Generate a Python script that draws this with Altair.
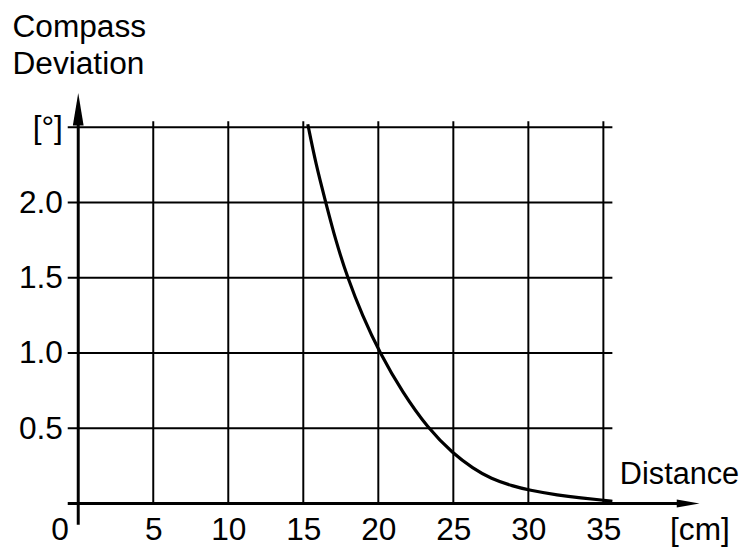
import altair as alt
import pandas as pd

# --- data ---
grid_x = [5, 10, 15, 20, 25, 30, 35]
grid_y = [0.5, 1.0, 1.5, 2.0, 2.5]
x_ticks = [0, 5, 10, 15, 20, 25, 30, 35]
unit_tick = [41.4]
y_ticks = [0.5, 1.0, 1.5, 2.0, 2.5]
curve_x = [15.3, 15.85, 16.5, 17.15, 17.95, 18.93, 20.1, 21.6, 23.3, 25.0,
           26.3, 27.5, 29.0, 30.0, 32.0, 33.5, 35.0, 35.6]
curve_y = [2.52, 2.25, 2.0, 1.75, 1.5, 1.25, 1.0, 0.74, 0.5, 0.33,
           0.235, 0.165, 0.115, 0.09, 0.055, 0.037, 0.022, 0.015]

# extents of the drawn grid / axes (data units)
GRID_TOP = 2.54
GRID_LEFT = -0.7
GRID_RIGHT = 35.6
YAXIS_BOTTOM = -0.14
YAXIS_TOP = 2.6
XAXIS_RIGHT = 40.2
Y_ARROW = 2.62
X_ARROW = 40.65

FONT = "Liberation Sans"
xs = alt.Scale(domain=[0, 42], nice=False, zero=False)
ys = alt.Scale(domain=[0, 2.8], nice=False, zero=False)

xax = alt.Axis(
    values=x_ticks + unit_tick,
    labelExpr="datum.value > 40 ? '[cm]' : datum.label",
    labelOffset={"condition": {"test": "datum.value == 0", "value": -19}, "value": 0},
    domain=False, ticks=False, grid=False,
    labelBaseline="alphabetic", labelPadding=36,
    labelFontSize=32, labelFont=FONT, labelColor="black",
    labelFlush=False, labelOverlap=False,
    title="Distance", titleX=547, titleY=-20, titleAlign="left",
    titleAnchor="start", titleBaseline="alphabetic",
    titleFontSize=31, titleFont=FONT, titleFontWeight="normal", titleColor="black",
)
yax = alt.Axis(
    values=y_ticks,
    labelExpr="datum.value == 2.5 ? '[°]' : format(datum.value, '.1f')",
    domain=False, ticks=False, grid=False,
    labelPadding=16, labelFontSize=32, labelFont=FONT, labelColor="black",
    labelFlush=False, labelOverlap=False,
    title=["Compass", "Deviation"], titleAngle=0, titleAlign="left",
    titleBaseline="alphabetic", titleX=-67, titleY=-46, titleLineHeight=37,
    titleFontSize=32, titleFont=FONT, titleFontWeight="normal", titleColor="black",
)

vgrid = pd.DataFrame({"x": grid_x, "y0": 0.0, "y1": GRID_TOP})
hgrid = pd.DataFrame({"y": grid_y, "x0": GRID_LEFT, "x1": GRID_RIGHT})
curve = pd.DataFrame({"x": curve_x, "y": curve_y})
xaxis_df = pd.DataFrame({"y": [0.0], "x0": [GRID_LEFT], "x1": [XAXIS_RIGHT]})
yaxis_df = pd.DataFrame({"x": [0.0], "y0": [YAXIS_BOTTOM], "y1": [YAXIS_TOP]})
yarrow_df = pd.DataFrame({"x": [0.0], "y": [Y_ARROW]})
xarrow_df = pd.DataFrame({"x": [X_ARROW], "y": [0.0]})

vg = alt.Chart(vgrid).mark_rule(color="black", strokeWidth=2).encode(
    x=alt.X("x:Q", scale=xs, axis=xax),
    y=alt.Y("y0:Q", scale=ys, axis=yax),
    y2="y1:Q",
)
hg = alt.Chart(hgrid).mark_rule(color="black", strokeWidth=2).encode(
    y=alt.Y("y:Q", scale=ys, axis=yax),
    x=alt.X("x0:Q", scale=xs, axis=xax),
    x2="x1:Q",
)
xa = alt.Chart(xaxis_df).mark_rule(color="black", strokeWidth=3).encode(
    y=alt.Y("y:Q", scale=ys, axis=yax),
    x=alt.X("x0:Q", scale=xs, axis=xax),
    x2="x1:Q",
)
ya = alt.Chart(yaxis_df).mark_rule(color="black", strokeWidth=3).encode(
    x=alt.X("x:Q", scale=xs, axis=xax),
    y=alt.Y("y0:Q", scale=ys, axis=yax),
    y2="y1:Q",
)
yarr = alt.Chart(yarrow_df).mark_point(
    shape="M0,-1L0.33,1L-0.33,1Z", size=1089, filled=True, color="black", opacity=1
).encode(x=alt.X("x:Q", scale=xs, axis=xax), y=alt.Y("y:Q", scale=ys, axis=yax))
xarr = alt.Chart(xarrow_df).mark_point(
    shape="M1,0L-1,0.35L-1,-0.35Z", size=529, filled=True, color="black", opacity=1
).encode(x=alt.X("x:Q", scale=xs, axis=xax), y=alt.Y("y:Q", scale=ys, axis=yax))

line = alt.Chart(curve).mark_line(color="black", strokeWidth=3.2, interpolate="basis").encode(
    x=alt.X("x:Q", scale=xs, axis=xax),
    y=alt.Y("y:Q", scale=ys, axis=yax),
)

chart = alt.layer(line, vg, hg, xa, ya, yarr, xarr).properties(
    width=637, height=426,
    autosize=alt.AutoSizeParams(type="none"),
    padding={"left": 71, "top": 72, "right": 37, "bottom": 44},
    background="white",
).configure_view(stroke=None)

chart.save("out.html", embed_options={"renderer": "svg", "actions": False})
